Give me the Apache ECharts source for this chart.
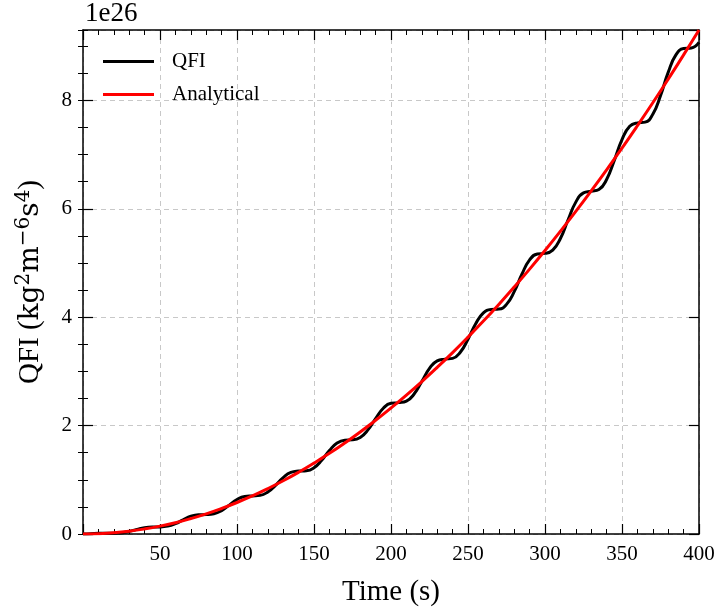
<!DOCTYPE html>
<html>
<head>
<meta charset="utf-8">
<script src="https://cdn.jsdelivr.net/npm/echarts@6/dist/echarts.min.js"></script>
<style>
  html, body { margin: 0; padding: 0; background: #fff; }
  #chart { width: 718px; height: 612px; }
</style>
</head>
<body>
<div id="chart"></div>
<script>
// time samples (s) for the QFI curve
const qfiTime = [
  0, 5, 10, 15, 20, 25, 30, 35, 40, 45, 50, 55, 60, 65, 70, 75, 80, 85, 90, 95,
  100, 105, 110, 115, 120, 125, 130, 135, 140, 145, 150, 155, 160, 165, 170, 175, 180, 185, 190, 195,
  200, 205, 210, 215, 220, 225, 230, 235, 240, 245, 250, 255, 260, 265, 270, 275, 280, 285, 290, 295,
  300, 305, 310, 315, 320, 325, 330, 335, 340, 345, 350, 355, 360, 365, 370, 375, 380, 385, 390, 395, 400
];
// QFI values, units of 1e26
const qfiValues = [
  0, 0.005, 0.012, 0.014, 0.015, 0.024, 0.048, 0.085, 0.117, 0.129, 0.130, 0.145, 0.191, 0.262, 0.327, 0.356, 0.359, 0.374, 0.432, 0.533,
  0.636, 0.693, 0.703, 0.713, 0.775, 0.899, 1.041, 1.136, 1.161, 1.167, 1.223, 1.360, 1.540, 1.680, 1.732, 1.737, 1.781, 1.921, 2.131, 2.321,
  2.412, 2.424, 2.452, 2.584, 2.815, 3.055, 3.196, 3.227, 3.241, 3.354, 3.595, 3.879, 4.079, 4.143, 4.150, 4.237, 4.472, 4.793, 5.057, 5.168,
  5.178, 5.237, 5.453, 5.798, 6.124, 6.296, 6.324, 6.357, 6.542, 6.895, 7.278, 7.522, 7.586, 7.600, 7.746, 8.089, 8.518, 8.840, 8.957, 8.967, 9.070
];
// analytical curve
const anaTime = [
  0, 10, 20, 30, 40, 50, 60, 70, 80, 90, 100, 110, 120, 130, 140, 150, 160, 170, 180, 190,
  200, 210, 220, 230, 240, 250, 260, 270, 280, 290, 300, 310, 320, 330, 340, 350, 360, 370, 380, 390, 400
];
const anaValues = [
  0, 0.006, 0.023, 0.052, 0.093, 0.145, 0.209, 0.285, 0.372, 0.471, 0.581, 0.703, 0.837, 0.982, 1.139, 1.308, 1.488, 1.680, 1.883, 2.098,
  2.325, 2.563, 2.813, 3.075, 3.348, 3.633, 3.929, 4.237, 4.557, 4.888, 5.231, 5.586, 5.952, 6.330, 6.719, 7.120, 7.533, 7.957, 8.393, 8.841, 9.300
];
const xTicks = [50, 100, 150, 200, 250, 300, 350, 400];
const yTicks = [0, 2, 4, 6, 8];

const font = 'Liberation Serif';
const myChart = echarts.init(document.getElementById('chart'), null, { renderer: 'canvas' });

const qfiData = qfiTime.map((t, i) => [t, qfiValues[i]]);
const anaData = anaTime.map((t, i) => [t, anaValues[i]]);

const lineCol = '#000';
const gridLine = { show: true, lineStyle: { color: '#c8c8c8', type: [5, 4], width: 1 } };

const option = {
  animation: false,
  backgroundColor: '#fff',
  grid: { left: 83, right: 19, top: 30, bottom: 77 },
  graphic: [{
    type: 'text', left: 85, top: 0,
    style: { text: '1e26', font: '27px "Liberation Serif"', fill: '#000' }
  }],
  legend: {
    orient: 'vertical', left: 98, top: 46, itemGap: 12,
    itemWidth: 51, itemHeight: 3, icon: 'rect',
    textStyle: { fontFamily: font, fontSize: 21, color: '#000', padding: [0, 0, 0, 13] },
    data: ['QFI', 'Analytical']
  },
  xAxis: [{
    type: 'value', min: 0, max: 400, interval: 50, position: 'bottom',
    name: 'Time (s)', nameLocation: 'middle', nameGap: 44,
    nameTextStyle: { fontFamily: font, fontSize: 29, color: '#000' },
    axisLine: { onZero: false, lineStyle: { color: lineCol, width: 1.5 } },
    axisTick: { inside: true, length: 10, lineStyle: { color: lineCol, width: 1.2 } },
    minorTick: { show: true, splitNumber: 5, length: 5, lineStyle: { color: lineCol, width: 1 } },
    axisLabel: { fontFamily: font, fontSize: 21, color: '#000', margin: 10, showMinLabel: false,
      formatter: v => xTicks.includes(v) ? String(v) : '' },
    splitLine: gridLine
  }, {
    type: 'value', min: 0, max: 400, interval: 50, position: 'top',
    axisLine: { onZero: false, lineStyle: { color: lineCol, width: 1.5 } },
    axisTick: { inside: true, length: 10, lineStyle: { color: lineCol, width: 1.2 } },
    minorTick: { show: true, splitNumber: 5, length: 5, lineStyle: { color: lineCol, width: 1 } },
    axisLabel: { show: false }, splitLine: { show: false }
  }],
  yAxis: [{
    type: 'value', min: 0, max: 9.3, interval: 2, position: 'left',
    name: '{q|QFI (}{b|kg}{s|2}{b|m}{s|\u22126}{b|s}{s|4}{q|)}',
    nameLocation: 'middle', nameRotate: 90, nameGap: 38,
    nameTextStyle: {
      fontFamily: font, color: '#000',
      rich: {
        q: { fontFamily: font, fontSize: 29, lineHeight: 31, verticalAlign: 'bottom', color: '#000' },
        b: { fontFamily: 'DejaVu Serif', fontSize: 28, lineHeight: 31, verticalAlign: 'bottom', color: '#000' },
        s: { fontFamily: 'DejaVu Serif', fontSize: 20, lineHeight: 20, verticalAlign: 'top', color: '#000' }
      }
    },
    axisLine: { onZero: false, lineStyle: { color: lineCol, width: 1.5 } },
    axisTick: { inside: true, length: 10, lineStyle: { color: lineCol, width: 1.2 } },
    axisLabel: { fontFamily: font, fontSize: 21, color: '#000', margin: 11, showMaxLabel: false,
      formatter: v => yTicks.includes(v) ? String(v) : '' },
    splitLine: gridLine
  }, {
    // minor ticks left
    type: 'value', min: 0, max: 9.3, interval: 0.5, position: 'left',
    axisLine: { show: false },
    axisTick: { inside: true, length: 5, lineStyle: { color: lineCol, width: 1 } },
    axisLabel: { show: false }, splitLine: { show: false }
  }, {
    type: 'value', min: 0, max: 9.3, interval: 2, position: 'right',
    axisLine: { onZero: false, lineStyle: { color: lineCol, width: 1.5 } },
    axisTick: { inside: true, length: 10, lineStyle: { color: lineCol, width: 1.2 } },
    axisLabel: { show: false }, splitLine: { show: false }
  }, {
    // minor ticks right
    type: 'value', min: 0, max: 9.3, interval: 0.5, position: 'right',
    axisLine: { show: false },
    axisTick: { inside: true, length: 5, lineStyle: { color: lineCol, width: 1 } },
    axisLabel: { show: false }, splitLine: { show: false }
  }],
  series: [
    {
      name: 'QFI', type: 'line', data: qfiData, xAxisIndex: 0, yAxisIndex: 0,
      symbol: 'none', smooth: 0.5,
      lineStyle: { color: '#000', width: 3 }, itemStyle: { color: '#000' }
    },
    {
      name: 'Analytical', type: 'line', data: anaData, xAxisIndex: 0, yAxisIndex: 0,
      symbol: 'none', smooth: true,
      lineStyle: { color: '#ff0000', width: 3 }, itemStyle: { color: '#ff0000' }
    }
  ]
};

myChart.setOption(option);
window.addEventListener('resize', myChart.resize);
</script>
</body>
</html>
